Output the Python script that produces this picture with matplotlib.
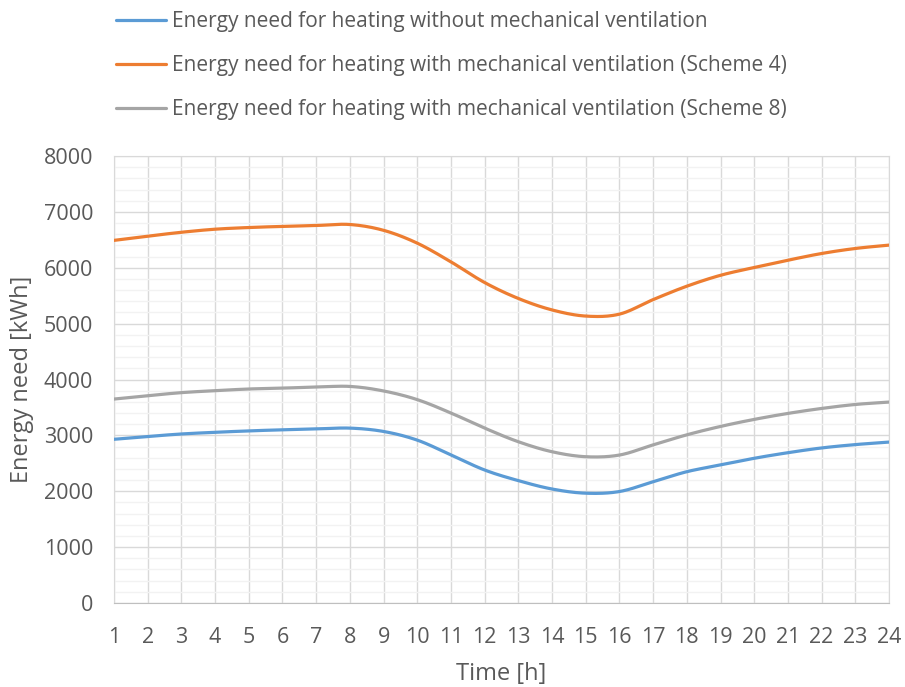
import numpy as np
import matplotlib
matplotlib.use("Agg")
import matplotlib.pyplot as plt
from matplotlib.ticker import MultipleLocator

hours = list(range(1, 25))
without_mv = [2930, 2980, 3025, 3055, 3080, 3100, 3115, 3130, 3070, 2915, 2650, 2380,
              2190, 2040, 1965, 1995, 2170, 2350, 2470, 2590, 2690, 2775, 2835, 2880]
scheme4 = [6490, 6565, 6635, 6690, 6720, 6740, 6756, 6774, 6670, 6440, 6105, 5735,
           5450, 5245, 5135, 5170, 5430, 5670, 5865, 6005, 6135, 6255, 6345, 6405]
scheme8 = [3650, 3710, 3765, 3800, 3830, 3846, 3864, 3876, 3795, 3640, 3400, 3130,
           2886, 2707, 2618, 2648, 2830, 3010, 3160, 3286, 3393, 3482, 3553, 3596]
labels = ["Energy need for heating without mechanical ventilation",
          "Energy need for heating with mechanical ventilation (Scheme 4)",
          "Energy need for heating with mechanical ventilation (Scheme 8)"]
colors = ["#5B9BD5", "#ED7D31", "#A5A5A5"]


def smooth(x, y, n=20):
    x = np.asarray(x, float); y = np.asarray(y, float)
    px = np.concatenate([[2 * x[0] - x[1]], x, [2 * x[-1] - x[-2]]])
    py = np.concatenate([[2 * y[0] - y[1]], y, [2 * y[-1] - y[-2]]])
    xs, ys = [], []
    t = np.linspace(0, 1, n, endpoint=False)
    for i in range(1, len(px) - 2):
        p0, p1, p2, p3 = py[i - 1], py[i], py[i + 1], py[i + 2]
        q0, q1, q2, q3 = px[i - 1], px[i], px[i + 1], px[i + 2]
        f = lambda a0, a1, a2, a3: 0.5 * ((2 * a1) + (-a0 + a2) * t +
                                          (2 * a0 - 5 * a1 + 4 * a2 - a3) * t ** 2 +
                                          (-a0 + 3 * a1 - 3 * a2 + a3) * t ** 3)
        xs.append(f(q0, q1, q2, q3)); ys.append(f(p0, p1, p2, p3))
    xs.append([x[-1]]); ys.append([y[-1]])
    return np.concatenate(xs), np.concatenate(ys)


plt.rcParams['font.family'] = ['Open Sans', 'DejaVu Sans']
fig = plt.figure(figsize=(9.05, 6.87), dpi=100)
ax = fig.add_axes([114 / 905, 1 - 603 / 687, (889 - 114) / 905, (603 - 156) / 687])

lines = []
for series, c, lab in zip([without_mv, scheme4, scheme8], colors, labels):
    sx, sy = smooth(hours, series)
    ln, = ax.plot(sx, sy, color=c, lw=2.3, label=lab, solid_capstyle='round', zorder=3)
    lines.append(ln)

ax.set_xlim(1, 24)
ax.set_ylim(0, 8000)
ax.set_xticks(hours)
ax.yaxis.set_major_locator(MultipleLocator(1000))
ax.yaxis.set_minor_locator(MultipleLocator(200))
ax.grid(which='major', color='#D9D9D9', lw=1.0, zorder=1)
ax.grid(which='minor', axis='y', color='#F2F2F2', lw=1.0, zorder=0)
ax.tick_params(which='both', length=0, labelsize=15.5, labelcolor='#595959')
ax.tick_params(axis='x', pad=17)
ax.tick_params(axis='y', pad=15)
for s in ax.spines.values():
    s.set_color('#D9D9D9')
ax.spines['bottom'].set_color('#BFBFBF')
ax.set_xlabel("Time [h]", fontsize=17, color='#595959', labelpad=10)
ax.set_ylabel("Energy need [kWh]", fontsize=17, color='#595959', labelpad=7)

fig.legend(handles=lines, loc='upper left', bbox_to_anchor=(108 / 905, 1 - 3 / 687),
           frameon=False, fontsize=15, labelcolor='#595959', handlelength=2.4,
           handletextpad=0.25, labelspacing=1.1, borderaxespad=0)

fig.savefig("out.png", dpi=100, facecolor='white')
